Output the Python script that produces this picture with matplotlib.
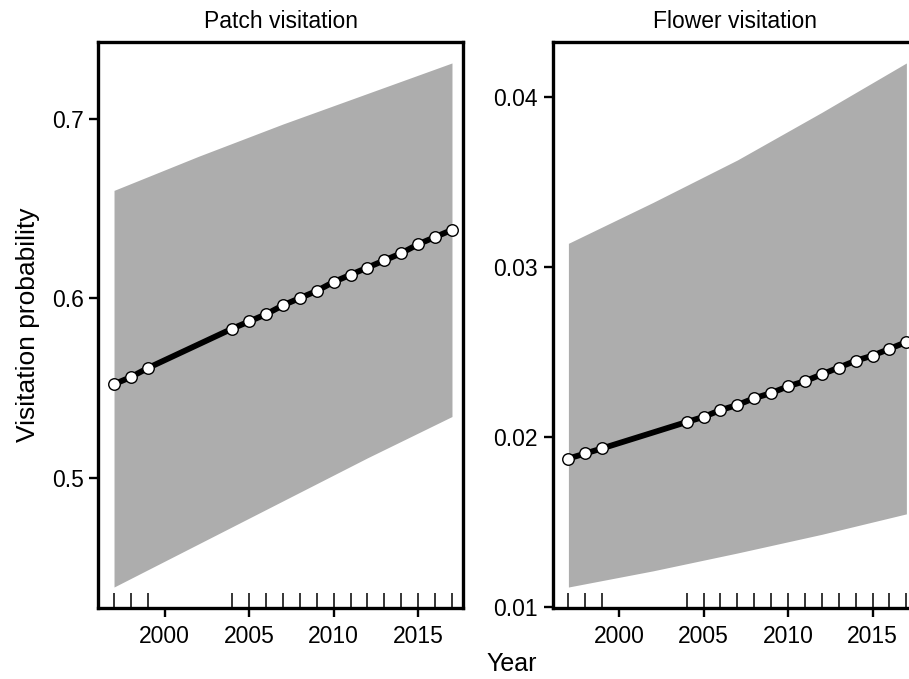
import numpy as np
import matplotlib
matplotlib.use("Agg")
import matplotlib.pyplot as plt

plt.rcParams['font.family'] = ['Liberation Sans', 'DejaVu Sans']

# Years with observations (rug + points) and full year range of the fitted line
obs_years = [1997, 1998, 1999, 2004, 2005, 2006, 2007, 2008, 2009, 2010,
             2011, 2012, 2013, 2014, 2015, 2016, 2017]

# Patch visitation: fitted probability at observed years
patch_fit = [0.552, 0.556, 0.561, 0.583, 0.587, 0.591, 0.596, 0.600, 0.604,
             0.609, 0.613, 0.617, 0.621, 0.625, 0.630, 0.634, 0.638]
# Flower visitation: fitted probability at observed years
flower_fit = [0.01875, 0.01905, 0.01935, 0.0209, 0.0212, 0.0216, 0.0219, 0.0223,
              0.0226, 0.0230, 0.0233, 0.0237, 0.0241, 0.0245, 0.0248, 0.0252, 0.0256]

# Confidence band edges
band_years = [1997, 2002, 2007, 2012, 2017]
patch_lo = [0.439, 0.463, 0.487, 0.511, 0.534]
patch_hi = [0.660, 0.679, 0.697, 0.714, 0.731]
flower_lo = [0.0112, 0.01215, 0.0132, 0.0143, 0.0155]
flower_hi = [0.0314, 0.0338, 0.0363, 0.0391, 0.0420]

titles = ['Patch visitation', 'Flower visitation']
yticks = [[0.5, 0.6, 0.7], [0.01, 0.02, 0.03, 0.04]]
xticks = [2000, 2005, 2010, 2015]

W, H = 909, 679
fig = plt.figure(figsize=(W / 100, H / 100), dpi=100)

def px_axes(x0, x1, y0, y1):
    return fig.add_axes([x0 / W, 1 - y1 / H, (x1 - x0) / W, (y1 - y0) / H])

ax1 = px_axes(98.3, 463.3, 42, 608)
ax2 = px_axes(552.7, 917.7, 42, 608)

panels = [
    (ax1, patch_fit, patch_lo, patch_hi),
    (ax2, flower_fit, flower_lo, flower_hi),
]

for k, (ax, fit, lo, hi) in enumerate(panels):
    ax.fill_between(band_years, lo, hi, color='#adadad', linewidth=0, zorder=1)
    ax.plot(obs_years, fit, color='black', linewidth=4.2, solid_capstyle='butt', zorder=2)
    ax.plot(obs_years, fit, linestyle='none', marker='o', markersize=8.3,
            markerfacecolor='white', markeredgecolor='black', markeredgewidth=1.0, zorder=3)

    # y limits with 4% padding around the band
    lo_all, hi_all = min(lo), max(hi)
    pad = 0.04 * (hi_all - lo_all)
    ax.set_ylim(lo_all - pad, hi_all + pad)
    ax.set_xlim(1996.07, 2017.67)

    ax.set_title(titles[k], fontsize=16.5, pad=10)
    ax.set_yticks(yticks[k])
    ax.set_yticklabels([f'{v:g}' for v in yticks[k]])
    ax.set_xticks(xticks)
    ax.set_xticklabels([str(v) for v in xticks])

    # rug of observation years as inward minor ticks
    ax.xaxis.remove_overlapping_locs = False
    ax.set_xticks(obs_years, minor=True)
    ax.tick_params(axis='x', which='minor', direction='in', length=11, width=1.1)
    ax.tick_params(axis='x', which='major', direction='out', length=6.5, width=1.7,
                   labelsize=16.5, pad=6)
    ax.tick_params(axis='y', which='major', direction='out', length=6.5, width=1.7,
                   labelsize=16.5, pad=4)
    ax.tick_params(top=False, right=False)
    for s in ax.spines.values():
        s.set_linewidth(2.4)

fig.text(512 / W, 1 - 664 / H, 'Year', ha='center', va='center', fontsize=18)
fig.text(28 / W, 1 - 325 / H, 'Visitation probability', ha='center', va='center',
         rotation=90, fontsize=19)

fig.savefig('out.png', dpi=100)
